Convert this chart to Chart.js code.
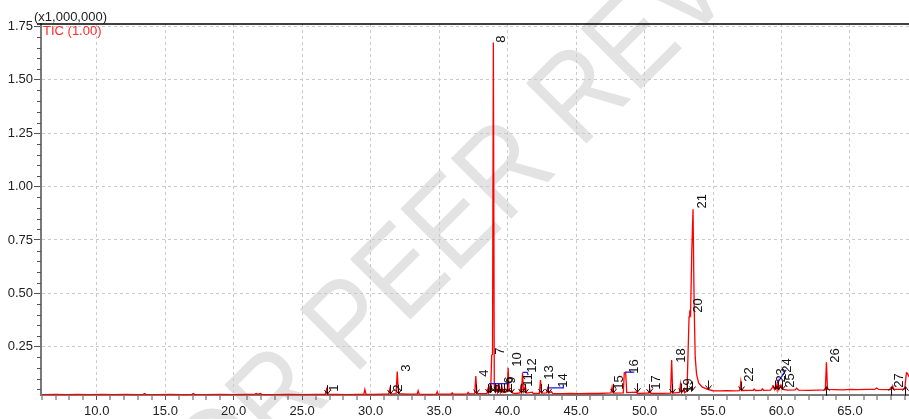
<!DOCTYPE html>
<html>
<head>
<meta charset="UTF-8">
<title>TIC chromatogram</title>
<script src="https://cdn.jsdelivr.net/npm/chart.js"></script>
<style>
    html, body { margin: 0; padding: 0; background: #fff; }
    #chart-container { position: relative; width: 909px; height: 419px; }
</style>
</head>
<body>
<div id="chart-container">
    <canvas id="tic"></canvas>
</div>

<script>
    // retention time (min) / TIC abundance (x1,000,000)
    const retTime = [
        6.00, 7.00, 7.80, 8.60, 9.50, 10.40, 11.20, 12.10, 13.00, 13.40,
        13.50, 13.60, 14.50, 15.40, 16.20, 16.95, 17.05, 17.15, 18.00, 19.00,
        20.00, 21.00, 21.55, 21.65, 21.75, 21.95, 22.05, 23.00, 24.00, 25.00,
        25.90, 26.70, 26.78, 26.86, 27.50, 28.30, 29.00, 29.50, 29.58, 29.66,
        30.20, 30.90, 31.32, 31.40, 31.48, 31.86, 31.94, 32.02, 32.10, 32.60,
        33.40, 33.47, 33.55, 34.20, 34.79, 34.86, 34.93, 35.50, 35.88, 35.95,
        36.02, 36.70, 37.05, 37.12, 37.20, 37.60, 37.68, 37.76, 38.20, 38.49,
        38.56, 38.62, 38.70, 38.76, 38.84, 38.90, 38.96, 39.03, 39.10, 39.20,
        39.27, 39.40, 39.47, 39.60, 39.67, 39.85, 39.97, 40.04, 40.11, 40.30,
        40.38, 40.60, 40.90, 40.96, 41.02, 41.09, 41.16, 41.30, 41.37, 41.80,
        41.87, 42.32, 42.40, 42.48, 42.85, 42.92, 43.00, 43.20, 43.30, 44.00,
        44.60, 45.20, 45.90, 46.60, 47.20, 47.55, 47.63, 47.71, 48.45, 48.52,
        48.62, 48.70, 49.40, 49.50, 50.20, 50.30, 50.38, 50.46, 51.20, 51.90,
        51.98, 52.06, 52.55, 52.62, 52.70, 52.85, 52.92, 53.10, 53.25, 53.30,
        53.36, 53.45, 53.54, 53.62, 53.70, 53.80, 53.95, 54.20, 54.60, 55.00,
        55.50, 56.00, 56.50, 56.95, 57.03, 57.10, 57.60, 57.95, 58.00, 58.10,
        58.55, 58.60, 58.70, 59.20, 59.40, 59.48, 59.60, 59.68, 59.75, 59.82,
        59.95, 60.05, 60.50, 61.00, 61.10, 61.25, 62.00, 62.60, 63.20, 63.28,
        63.36, 63.90, 64.50, 65.00, 65.60, 66.20, 66.80, 66.95, 67.10, 67.60,
        68.05, 68.12, 68.20, 68.70, 69.00, 69.12, 69.20, 69.31
    ];
    const ticAbund = [
        0.026, 0.027, 0.026, 0.027, 0.026, 0.027, 0.026, 0.027, 0.026, 0.027,
        0.031, 0.026, 0.026, 0.027, 0.026, 0.027, 0.031, 0.026, 0.026, 0.027,
        0.026, 0.027, 0.028, 0.031, 0.027, 0.031, 0.027, 0.026, 0.027, 0.026,
        0.027, 0.027, 0.050, 0.027, 0.027, 0.026, 0.027, 0.027, 0.050, 0.027,
        0.027, 0.028, 0.028, 0.052, 0.028, 0.030, 0.134, 0.045, 0.030, 0.028,
        0.028, 0.044, 0.028, 0.027, 0.028, 0.040, 0.028, 0.028, 0.028, 0.034,
        0.028, 0.028, 0.029, 0.036, 0.029, 0.030, 0.113, 0.031, 0.030, 0.032,
        0.050, 0.035, 0.060, 0.036, 0.210, 0.215, 1.675, 0.060, 0.040, 0.062,
        0.036, 0.066, 0.036, 0.060, 0.035, 0.036, 0.042, 0.151, 0.041, 0.046,
        0.033, 0.031, 0.034, 0.060, 0.040, 0.128, 0.040, 0.065, 0.033, 0.037,
        0.031, 0.032, 0.094, 0.033, 0.034, 0.055, 0.033, 0.040, 0.031, 0.030,
        0.032, 0.030, 0.032, 0.031, 0.033, 0.034, 0.062, 0.033, 0.034, 0.128,
        0.130, 0.035, 0.037, 0.031, 0.033, 0.033, 0.050, 0.032, 0.032, 0.033,
        0.188, 0.033, 0.036, 0.075, 0.035, 0.050, 0.035, 0.042, 0.390, 0.410,
        0.400, 0.700, 0.894, 0.450, 0.200, 0.120, 0.080, 0.062, 0.050, 0.044,
        0.043, 0.044, 0.043, 0.044, 0.086, 0.045, 0.046, 0.046, 0.052, 0.045,
        0.046, 0.053, 0.046, 0.047, 0.065, 0.050, 0.075, 0.048, 0.085, 0.050,
        0.070, 0.050, 0.047, 0.048, 0.056, 0.047, 0.046, 0.047, 0.048, 0.177,
        0.050, 0.049, 0.048, 0.050, 0.049, 0.050, 0.050, 0.057, 0.050, 0.049,
        0.050, 0.066, 0.050, 0.050, 0.052, 0.128, 0.125, 0.110
    ];

    // peak numbers and where their labels sit (rt, abundance)
    const peakIds = ['1', '2', '3', '4', '5', '6', '7', '8', '9', '10', '11', '12', '13', '14',
                     '15', '16', '17', '18', '19', '20', '21', '22', '23', '24', '25', '26', '27'];
    const labelRt = [27.33, 32.00, 32.58, 38.28, 39.15, 40.10, 39.45, 39.52, 40.25, 40.69, 41.49, 41.78, 43.02, 44.05,
                     48.14, 49.23, 50.90, 52.66, 53.17, 53.90, 54.20, 57.63, 59.96, 60.40, 60.62, 63.91, 68.58];
    const labelAbund = [0.039, 0.039, 0.133, 0.110, 0.039, 0.077, 0.213, 1.674, 0.077, 0.156, 0.063, 0.128, 0.096, 0.058,
                        0.049, 0.124, 0.049, 0.175, 0.035, 0.409, 0.897, 0.086, 0.082, 0.128, 0.058, 0.175, 0.058];

    // integration marks
    const startEndRt = [26.78, 31.40, 31.99, 37.70, 38.56, 38.72, 39.08, 39.30, 39.52, 39.75, 39.99, 40.26, 40.95, 41.28,
                        42.46, 42.98, 47.72, 49.42, 50.36, 51.99, 52.66, 53.08, 53.44, 54.66, 57.06, 59.52, 59.76, 60.02];
    const startEndAbund = [0.028, 0.029, 0.030, 0.031, 0.033, 0.034, 0.036, 0.036, 0.036, 0.035, 0.038, 0.034, 0.034, 0.033,
                           0.033, 0.033, 0.034, 0.037, 0.033, 0.033, 0.036, 0.040, 0.045, 0.050, 0.045, 0.050, 0.049, 0.050];
    const upMarkRt = [63.28, 68.02, 68.99];
    const upMarkAbund = [0.030, 0.030, 0.030];

    // baseline segments drawn in blue
    const blueSegments = [
        [[38.64, 0.077], [40.10, 0.077]],
        [[41.10, 0.130], [41.43, 0.130], [41.50, 0.117]],
        [[42.92, 0.052], [42.97, 0.057], [44.07, 0.057], [44.07, 0.073]],
        [[48.60, 0.131], [49.25, 0.131]],
        [[59.70, 0.080], [60.33, 0.142]]
    ];

    const xTickValues = [];
    for (let m = 6; m <= 69; m++) xTickValues.push(m);
    const yTickValues = [];
    for (let k = 1; k <= 35; k++) yTickValues.push(Math.round(k * 5) / 100);

    const isMajorX = v => Math.abs(v % 5) < 1e-6;
    const isMajorY = v => Math.abs(v * 4 - Math.round(v * 4)) < 1e-6;

    const traceData = retTime.map((t, i) => ({x: t, y: ticAbund[i]}));

    const datasets = [{
        label: 'TIC',
        data: traceData,
        borderColor: '#ff0000',
        borderWidth: 1.3,
        pointRadius: 0,
        tension: 0,
        fill: false,
        order: 1
    }];
    blueSegments.forEach(seg => {
        datasets.push({
            data: seg.map(p => ({x: p[0], y: p[1]})),
            borderColor: '#1a1aff',
            borderWidth: 1.3,
            pointRadius: 0,
            tension: 0,
            fill: false,
            order: 0
        });
    });

    const FONT = 'Arial, "Liberation Sans", sans-serif';

    const decorations = {
        id: 'decorations',
        beforeDraw(chart) {
            // faint diagonal watermark
            const ctx = chart.ctx;
            ctx.save();
            ctx.translate(354, 376);
            ctx.rotate(-45 * Math.PI / 180);
            ctx.scale(0.86, 1);
            ctx.font = '124px ' + FONT;
            ctx.fillStyle = '#e3e3e3';
            ctx.textBaseline = 'alphabetic';
            ctx.textAlign = 'left';
            ctx.fillText('PEER REVIEW', 0, 0);
            ctx.textAlign = 'right';
            ctx.fillText('FOR ', 0, 0);
            ctx.restore();
        },
        afterDraw(chart) {
            // short minor ticks on the y axis
            const ctx = chart.ctx;
            const ys = chart.scales.y;
            const left = chart.chartArea.left;
            ctx.save();
            ctx.strokeStyle = '#555';
            ctx.lineWidth = 1;
            yTickValues.forEach(v => {
                if (isMajorY(v)) return;
                const y = Math.round(ys.getPixelForValue(v)) + 0.5;
                ctx.beginPath();
                ctx.moveTo(left - 4, y);
                ctx.lineTo(left, y);
                ctx.stroke();
            });
            ctx.restore();
        },
        afterDatasetsDraw(chart) {
            const ctx = chart.ctx;
            const xs = chart.scales.x, ys = chart.scales.y;
            const area = chart.chartArea;

            // start/end arrows
            ctx.save();
            ctx.strokeStyle = '#3a0000';
            ctx.lineWidth = 1;
            startEndRt.forEach((t, i) => {
                const x = Math.round(xs.getPixelForValue(t)) + 0.5;
                const y = ys.getPixelForValue(startEndAbund[i]);
                ctx.beginPath();
                ctx.moveTo(x, y - 9);
                ctx.lineTo(x, y);
                ctx.moveTo(x - 3, y - 4);
                ctx.lineTo(x, y);
                ctx.lineTo(x + 3, y - 4);
                ctx.stroke();
            });
            upMarkRt.forEach((t, i) => {
                const x = Math.round(xs.getPixelForValue(t)) + 0.5;
                const y = ys.getPixelForValue(upMarkAbund[i]);
                ctx.beginPath();
                ctx.moveTo(x, y + 2);
                ctx.lineTo(x, y - 7);
                ctx.moveTo(x - 3, y - 3);
                ctx.lineTo(x, y - 7);
                ctx.lineTo(x + 3, y - 3);
                ctx.stroke();
            });
            ctx.restore();

            // peak numbers, rotated
            ctx.save();
            ctx.fillStyle = '#111';
            ctx.font = '13px ' + FONT;
            ctx.textAlign = 'left';
            ctx.textBaseline = 'middle';
            peakIds.forEach((id, i) => {
                const x = xs.getPixelForValue(labelRt[i]);
                const y = ys.getPixelForValue(labelAbund[i]);
                ctx.save();
                ctx.translate(x, y);
                ctx.rotate(-Math.PI / 2);
                ctx.fillText(id, 0, 0);
                ctx.restore();
            });
            ctx.restore();

            // top frame line + header texts
            ctx.save();
            ctx.strokeStyle = '#000';
            ctx.lineWidth = 1.5;
            ctx.beginPath();
            ctx.moveTo(area.left - 4, area.top);
            ctx.lineTo(area.right, area.top);
            ctx.stroke();
            ctx.font = '13px ' + FONT;
            ctx.textBaseline = 'middle';
            ctx.textAlign = 'left';
            ctx.fillStyle = '#222';
            ctx.fillText('(x1,000,000)', 34, 17);
            ctx.fillStyle = '#ff2a2a';
            ctx.fillText('TIC (1.00)', 43, 31);
            ctx.restore();
        }
    };

    const config = {
        type: 'line',
        data: { datasets: datasets },
        options: {
            responsive: true,
            maintainAspectRatio: false,
            animation: false,
            events: [],
            layout: { padding: { top: 24, right: 0, bottom: 0, left: 0 } },
            plugins: {
                legend: { display: false },
                tooltip: { enabled: false }
            },
            scales: {
                x: {
                    type: 'linear',
                    min: 5.93,
                    max: 69.31,
                    afterBuildTicks: s => { s.ticks = xTickValues.map(v => ({value: v})); },
                    afterFit: s => { s.height = 24; },
                    ticks: {
                        autoSkip: false,
                        maxRotation: 0,
                        padding: 4,
                        color: '#222',
                        font: { size: 13, family: FONT },
                        callback: v => isMajorX(v) ? v.toFixed(1) : ''
                    },
                    grid: {
                        color: c => (c.tick && isMajorX(c.tick.value)) ? '#cacaca' : 'rgba(0,0,0,0)',
                        lineWidth: c => (c.tick && isMajorX(c.tick.value)) ? 1 : 0,
                        tickColor: '#555',
                        tickWidth: 1,
                        tickLength: 5
                    },
                    border: { display: true, color: '#7a7a7a', width: 2, dash: [3, 3] }
                },
                y: {
                    min: 0.024,
                    max: 1.7614,
                    afterBuildTicks: s => { s.ticks = yTickValues.map(v => ({value: v})); },
                    afterFit: s => { s.width = 41; },
                    ticks: {
                        autoSkip: false,
                        padding: 1,
                        color: '#222',
                        font: { size: 13, family: FONT },
                        callback: v => isMajorY(v) ? v.toFixed(2) : ''
                    },
                    grid: {
                        color: c => (c.tick && isMajorY(c.tick.value)) ? '#cacaca' : 'rgba(0,0,0,0)',
                        lineWidth: c => (c.tick && isMajorY(c.tick.value)) ? 1 : 0,
                        tickColor: c => (c.tick && isMajorY(c.tick.value)) ? '#555' : 'rgba(0,0,0,0)',
                        tickWidth: 1,
                        tickLength: 7
                    },
                    border: { display: true, color: '#7a7a7a', width: 2, dash: [3, 3] }
                }
            }
        },
        plugins: [decorations]
    };

    const chart = new Chart(document.getElementById('tic').getContext('2d'), config);
</script>
</body>
</html>
